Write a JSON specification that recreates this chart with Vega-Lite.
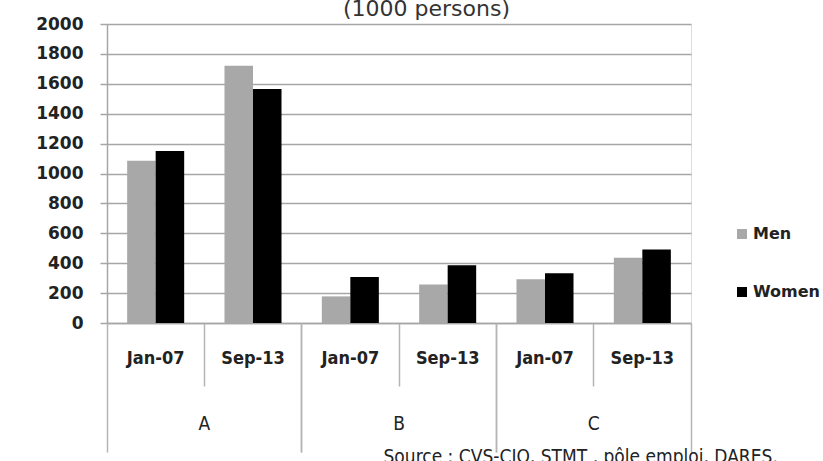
{
  "$schema": "https://vega.github.io/schema/vega-lite/v6.json",
  "width": 584,
  "height": 299,
  "autosize": "none",
  "padding": {"left": 107, "top": 24, "right": 132, "bottom": 138},
  "background": "#ffffff",
  "data": {
    "values": [
      {"group": "A", "period": "Jan-07", "key": "A Jan-07", "sex": "Men", "value": 1085},
      {"group": "A", "period": "Jan-07", "key": "A Jan-07", "sex": "Women", "value": 1150},
      {"group": "A", "period": "Sep-13", "key": "A Sep-13", "sex": "Men", "value": 1720},
      {"group": "A", "period": "Sep-13", "key": "A Sep-13", "sex": "Women", "value": 1565},
      {"group": "B", "period": "Jan-07", "key": "B Jan-07", "sex": "Men", "value": 178},
      {"group": "B", "period": "Jan-07", "key": "B Jan-07", "sex": "Women", "value": 308},
      {"group": "B", "period": "Sep-13", "key": "B Sep-13", "sex": "Men", "value": 257},
      {"group": "B", "period": "Sep-13", "key": "B Sep-13", "sex": "Women", "value": 386},
      {"group": "C", "period": "Jan-07", "key": "C Jan-07", "sex": "Men", "value": 293},
      {"group": "C", "period": "Jan-07", "key": "C Jan-07", "sex": "Women", "value": 333},
      {"group": "C", "period": "Sep-13", "key": "C Sep-13", "sex": "Men", "value": 436},
      {"group": "C", "period": "Sep-13", "key": "C Sep-13", "sex": "Women", "value": 491}
    ]
  },
  "encoding": {
    "y": {
      "field": "value",
      "type": "quantitative",
      "scale": {"domain": [0, 2000], "nice": false},
      "axis": {
        "title": "(1000 persons)",
        "titleFont": "DejaVu Sans",
        "titleFontSize": 22,
        "titleFontWeight": "normal",
        "titleColor": "#333333",
        "titleAngle": 0,
        "titleAlign": "center",
        "titleBaseline": "alphabetic",
        "titleX": 319,
        "titleY": -9,
        "values": [0, 200, 400, 600, 800, 1000, 1200, 1400, 1600, 1800, 2000],
        "format": "d",
        "labelOverlap": false,
        "grid": true,
        "gridColor": "#a6a6a6",
        "gridWidth": 1.5,
        "domain": true,
        "domainColor": "#a6a6a6",
        "domainWidth": 1.5,
        "tickSize": 7,
        "tickColor": "#a6a6a6",
        "tickWidth": 1.5,
        "labelFont": "DejaVu Sans",
        "labelFontWeight": "bold",
        "labelFontSize": 17,
        "labelColor": "#222222",
        "labelPadding": 17
      }
    }
  },
  "resolve": {"scale": {"x": "independent"}, "axis": {"x": "independent"}},
  "layer": [
    {
      "mark": {"type": "bar"},
      "encoding": {
        "x": {
          "field": "key",
          "type": "nominal",
          "sort": null,
          "scale": {"paddingInner": 0, "paddingOuter": 0},
          "axis": {
            "title": null,
            "orient": "bottom",
            "offset": 0,
            "bandPosition": 1,
            "domain": true,
            "domainColor": "#a6a6a6",
            "domainWidth": 1.5,
            "tickColor": "#b4b4b4",
            "tickWidth": 1.5,
            "tickSize": {"condition": {"test": "indexof(datum.value, 'Sep-13') >= 0", "value": 129}, "value": 63},
            "labelExpr": "substring(datum.value, 2)",
            "labelAngle": 0,
            "labelOverlap": false,
            "labelFont": "DejaVu Sans Condensed",
            "labelFontWeight": "bold",
            "labelFontSize": 18,
            "labelColor": "#222222",
            "labelBaseline": "middle",
            "labelPadding": {"condition": {"test": "indexof(datum.value, 'Sep-13') >= 0", "value": -94}, "value": -28}
          }
        },
        "xOffset": {
          "field": "sex",
          "type": "nominal",
          "scale": {"paddingInner": 0, "paddingOuter": 0.707}
        },
        "color": {
          "field": "sex",
          "type": "nominal",
          "scale": {"domain": ["Men", "Women"], "range": ["#a8a8a8", "#000000"]},
          "legend": {
            "title": null,
            "orient": "none",
            "legendX": 627,
            "legendY": 202,
            "padding": 0,
            "symbolType": "square",
            "symbolSize": 100,
            "symbolStrokeWidth": 0,
            "rowPadding": 42,
            "labelOffset": 3,
            "labelFont": "DejaVu Sans",
            "labelFontWeight": "bold",
            "labelFontSize": 16,
            "labelColor": "#222222"
          }
        }
      }
    },
    {
      "mark": {"type": "bar", "opacity": 0},
      "encoding": {
        "x": {
          "field": "group",
          "type": "nominal",
          "sort": null,
          "scale": {"paddingInner": 0, "paddingOuter": 0},
          "axis": {
            "orient": "bottom",
            "offset": 0,
            "bandPosition": 0,
            "domain": false,
            "tickColor": "#b4b4b4",
            "tickWidth": 1.5,
            "tickSize": 129,
            "labelAngle": 0,
            "labelOverlap": false,
            "labelFont": "DejaVu Sans Condensed",
            "labelFontWeight": "normal",
            "labelFontSize": 19,
            "labelColor": "#222222",
            "labelBaseline": "middle",
            "labelPadding": -29,
            "title": "Source : CVS-CJO,  STMT , pôle emploi, DARES.",
            "titleFont": "DejaVu Sans Condensed",
            "titleFontWeight": "normal",
            "titleFontSize": 19,
            "titleColor": "#222222",
            "titleAnchor": "start",
            "titleAlign": "left",
            "titleBaseline": "alphabetic",
            "titleX": 276,
            "titleY": 139
          }
        }
      }
    }
  ]
}
